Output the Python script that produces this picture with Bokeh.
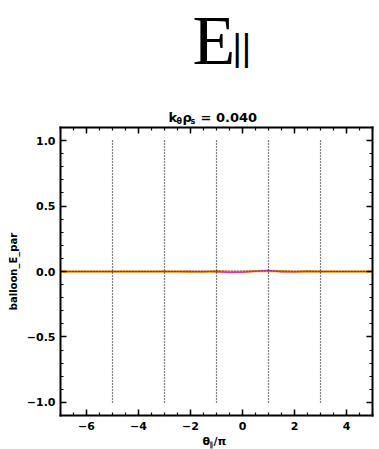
from bokeh.plotting import figure
from bokeh.models import Range1d, FixedTicker, LinearAxis, CustomLabelingPolicy, Label
from bokeh.embed import file_html
from bokeh.resources import INLINE

# data
theta = [-7.0, -6.5, -6.0, -5.5, -5.0, -4.5, -4.0, -3.5, -3.0, -2.5, -2.0, -1.5,
         -1.0, -0.5, 0.0, 0.5, 1.0, 1.5, 2.0, 2.5, 3.0, 3.5, 4.0, 4.5, 5.0]
e_real = [0.0, 0.0, 0.0, 0.0, 0.0, 0.0, 0.0, 0.0, 0.001, 0.0, -0.002, -0.003,
          0.002, -0.003, -0.004, 0.003, 0.005, 0.002, -0.002, 0.002, 0.0, 0.0, 0.0, 0.0, 0.0]
e_imag = [0.0, 0.0, 0.0, 0.0, 0.0, 0.0, 0.0, 0.0, 0.0, 0.0, 0.001, 0.002,
          -0.002, -0.009, -0.005, 0.002, 0.008, -0.003, -0.002, 0.0, 0.0, 0.0, 0.0, 0.0, 0.0]
e_abs = [0.0, 0.0, 0.0, 0.0, 0.0, 0.0, 0.0, 0.0, 0.001, 0.0, 0.002, 0.003,
         0.002, 0.004, 0.005, 0.003, 0.005, 0.002, 0.002, 0.002, 0.0, 0.0, 0.0, 0.0, 0.0]
vlines_x = [-5, -3, -1, 1, 3]
x_ticks = [-6, -4, -2, 0, 2, 4]
x_tick_labels = ["\u22126", "\u22124", "\u22122", "0", "2", "4"]
y_ticks = [-1.0, -0.5, 0.0, 0.5, 1.0]
y_tick_labels = ["\u22121.0", "\u22120.5", "0.0", "0.5", "1.0"]
title_main = "E"
title_sub = "||"
subtitle_parts = ["k", "\u03b8", "\u03c1", "s", "=  0.040"]
y_label = "balloon_E_par"
x_label_parts = ["\u03b8", "\u2225", "/\u03c0"]

FONT = "DejaVu Sans"
W, H = 379, 449
# plot box placement in canvas pixels
L, R, T, B = 60, 7, 127, 34
X0, X1 = -7.0, 5.0
Y0, Y1 = -1.1, 1.1
ppx = (W - L - R) / (X1 - X0)
ppy = (H - T - B) / (Y1 - Y0)

p = figure(width=W, height=H, output_backend="svg", toolbar_location=None,
           x_range=Range1d(X0 - L / ppx, X1 + R / ppx),
           y_range=Range1d(Y0 - B / ppy, Y1 + T / ppy),
           min_border=0, x_axis_location=None, y_axis_location=None)
p.grid.visible = False
p.outline_line_color = None

x_minor = [v / 2 for v in range(-14, 11)]
y_minor = [v / 10 for v in range(-11, 12)]


def make_axis(ticks, minor, show, overrides, loc, bounds):
    ax = LinearAxis(ticker=FixedTicker(ticks=ticks, minor_ticks=minor),
                    fixed_location=loc, bounds=bounds)
    ax.axis_line_color = "black"
    ax.axis_line_width = 2
    ax.axis_line_cap = "square"
    ax.major_tick_in = 6
    ax.major_tick_out = 0
    ax.minor_tick_in = 3
    ax.minor_tick_out = 0
    ax.major_tick_line_width = 1.5
    ax.minor_tick_line_width = 1.2
    if show:
        ax.major_label_overrides = overrides
        ax.major_label_text_font = FONT
        ax.major_label_text_font_style = "bold"
        ax.major_label_text_font_size = "11px"
        ax.major_label_text_color = "black"
    else:
        ax.major_label_policy = CustomLabelingPolicy(code="return []")
        ax.major_label_standoff = 0
    return ax


bx = make_axis(x_ticks, x_minor, True, dict(zip(x_ticks, x_tick_labels)), Y0, (X0, X1))
bx.major_label_standoff = 6
p.add_layout(bx, "below")
p.add_layout(make_axis(x_ticks, x_minor, False, {}, Y1, (X0, X1)), "above")
ly = make_axis(y_ticks, y_minor, True, dict(zip(y_ticks, y_tick_labels)), X0, (Y0, Y1))
ly.major_label_standoff = 5
ly.axis_label = y_label
ly.axis_label_text_font = FONT
ly.axis_label_text_font_style = "bold"
ly.axis_label_text_font_size = "10px"
ly.axis_label_text_color = "black"
ly.axis_label_standoff = 5
p.add_layout(ly, "left")
p.add_layout(make_axis(y_ticks, y_minor, False, {}, X1, (Y0, Y1)), "right")

# curves
p.line(theta, e_real, line_color="#F08A1C", line_width=2.4)
p.line(theta, e_imag, line_color="#E8309A", line_width=1.2)
p.line(theta, e_abs, line_color="#222222", line_width=1, line_dash="1 2")

# dotted vertical lines
for xv in vlines_x:
    p.line([xv, xv], [-1.0, 1.0], line_color="black", line_width=1.2, line_dash="1 2")


def lab(x, y, text, size, font=FONT, style="bold"):
    # y is the vertical middle of the text line, in canvas pixels
    p.add_layout(Label(x=x, y=y, x_units="canvas", y_units="canvas", text=text,
                       text_font=font, text_font_style=style, text_font_size=size,
                       text_color="black", text_align="left",
                       text_baseline="middle"))


# big title E_||
lab(192, 39.5, title_main, "70px", font="Liberation Serif", style="normal")
lab(232, 47, title_sub, "36px", font="Liberation Sans", style="normal")

# subtitle k_theta rho_s = 0.040
sub_x = [168, 176, 182, 190, 200]
sub_y = [116.5, 121, 116.5, 121, 116.5]
sub_size = ["13px", "8px", "13px", "8px", "13px"]
for t, xx, yy, sz in zip(subtitle_parts, sub_x, sub_y, sub_size):
    lab(xx, yy, t, sz)

# x-axis label theta_par / pi
for t, xx, yy, sz in zip(x_label_parts, [202, 209, 213], [440.5, 444, 440.5],
                         ["11px", "7px", "11px"]):
    lab(xx, yy, t, sz)

open("out.html", "w").write(file_html(p, INLINE))
